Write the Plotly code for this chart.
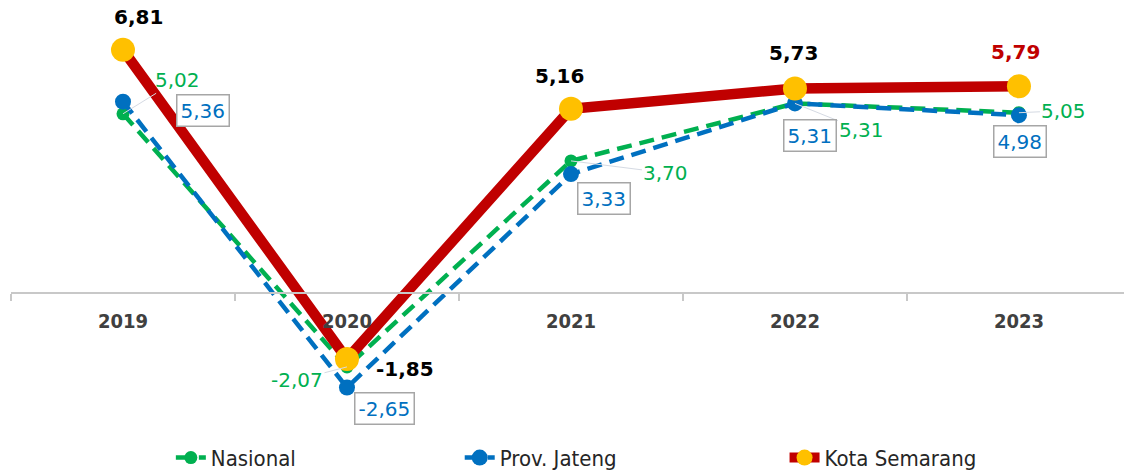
import plotly.graph_objects as go

years = ["2019", "2020", "2021", "2022", "2023"]
nasional = [5.02, -2.07, 3.70, 5.31, 5.05]
jateng = [5.36, -2.65, 3.33, 5.31, 4.98]
semarang = [6.81, -1.85, 5.16, 5.73, 5.79]

GREEN = "#00b050"
BLUE = "#0070c0"
RED = "#c00000"
YELLOW = "#ffc000"
LBL_FONT = "DejaVu Sans"
COND = "DejaVu Sans Condensed"


def fmt(v):
    return f"{v:.2f}".replace(".", ",")


fig = go.Figure()
fig.add_trace(go.Scatter(
    x=years, y=nasional, name="Nasional", mode="lines+markers",
    line=dict(color=GREEN, width=4.5, dash="15px,8px"),
    marker=dict(color=GREEN, size=13), legend="legend",
))
fig.add_trace(go.Scatter(
    x=years, y=jateng, name="Prov. Jateng", mode="lines+markers",
    line=dict(color=BLUE, width=4.5, dash="15px,8px"),
    marker=dict(color=BLUE, size=16), legend="legend2",
))
fig.add_trace(go.Scatter(
    x=years, y=semarang, name="Kota Semarang", mode="lines+markers",
    line=dict(color=RED, width=10.5),
    marker=dict(color=YELLOW, size=24), legend="legend3",
))

# Kota Semarang labels (bold)
kota_shift = [(16, 33), (58, -10), (-11, 33), (-1, 35), (-3, 34)]
for i, v in enumerate(semarang):
    fig.add_annotation(
        x=i, y=v, xref="x", yref="y", text=fmt(v), showarrow=False,
        xshift=kota_shift[i][0], yshift=kota_shift[i][1],
        font=dict(family=LBL_FONT, size=20, color=RED if i == 4 else "#000000", weight="bold"),
    )
# Nasional labels with leader lines
nas_off = [(55, -34), (-50, 13), (95, 12), (67, 27), (45, -2)]
for i, v in enumerate(nasional):
    fig.add_annotation(
        x=i, y=v, xref="x", yref="y", text=fmt(v), showarrow=True, arrowhead=0, arrowwidth=1,
        arrowcolor="#d5dae3", ax=nas_off[i][0], ay=nas_off[i][1],
        font=dict(family=LBL_FONT, size=20, color=GREEN),
    )
# Prov. Jateng boxed labels
jat_shift = [(80, -9), (38, -21), (33, -24), (15, -32), (1, -26)]
for i, v in enumerate(jateng):
    fig.add_annotation(
        x=i, y=v, xref="x", yref="y", text=fmt(v), showarrow=False,
        xshift=jat_shift[i][0], yshift=jat_shift[i][1],
        bordercolor="#a6a6a6", borderwidth=1.5, borderpad=3, bgcolor="#ffffff",
        font=dict(family=LBL_FONT, size=20, color=BLUE),
    )

legend_style = dict(orientation="h", xref="container", yref="container", y=0.026,
                    xanchor="left", yanchor="middle",
                    font=dict(family=COND, size=22, color="#262626"), bgcolor="rgba(0,0,0,0)")

y_lo, y_hi = -4.958, 8.207
fig.update_layout(
    width=1124, height=470,
    margin=dict(l=11, r=0, t=0, b=0, autoexpand=False),
    paper_bgcolor="#ffffff", plot_bgcolor="#ffffff",
    xaxis=dict(
        type="category", range=[-0.5, 4.469],
        anchor="free", position=(0 - y_lo) / (y_hi - y_lo),
        showline=True, linecolor="#c8c8c8", linewidth=1.5,
        ticks="outside", tickson="boundaries", ticklen=7, tickcolor="#c8c8c8", tickwidth=1.5,
        showgrid=False, zeroline=False,
        tickfont=dict(family=COND, size=20, color="#404040", weight="bold"),
        ticklabelstandoff=10,
    ),
    yaxis=dict(range=[y_lo, y_hi], visible=False, showgrid=False, zeroline=False),
    legend=dict(legend_style, x=0.152),
    legend2=dict(legend_style, x=0.409),
    legend3=dict(legend_style, x=0.698),
    showlegend=True,
)

fig.write_html("out.html")
